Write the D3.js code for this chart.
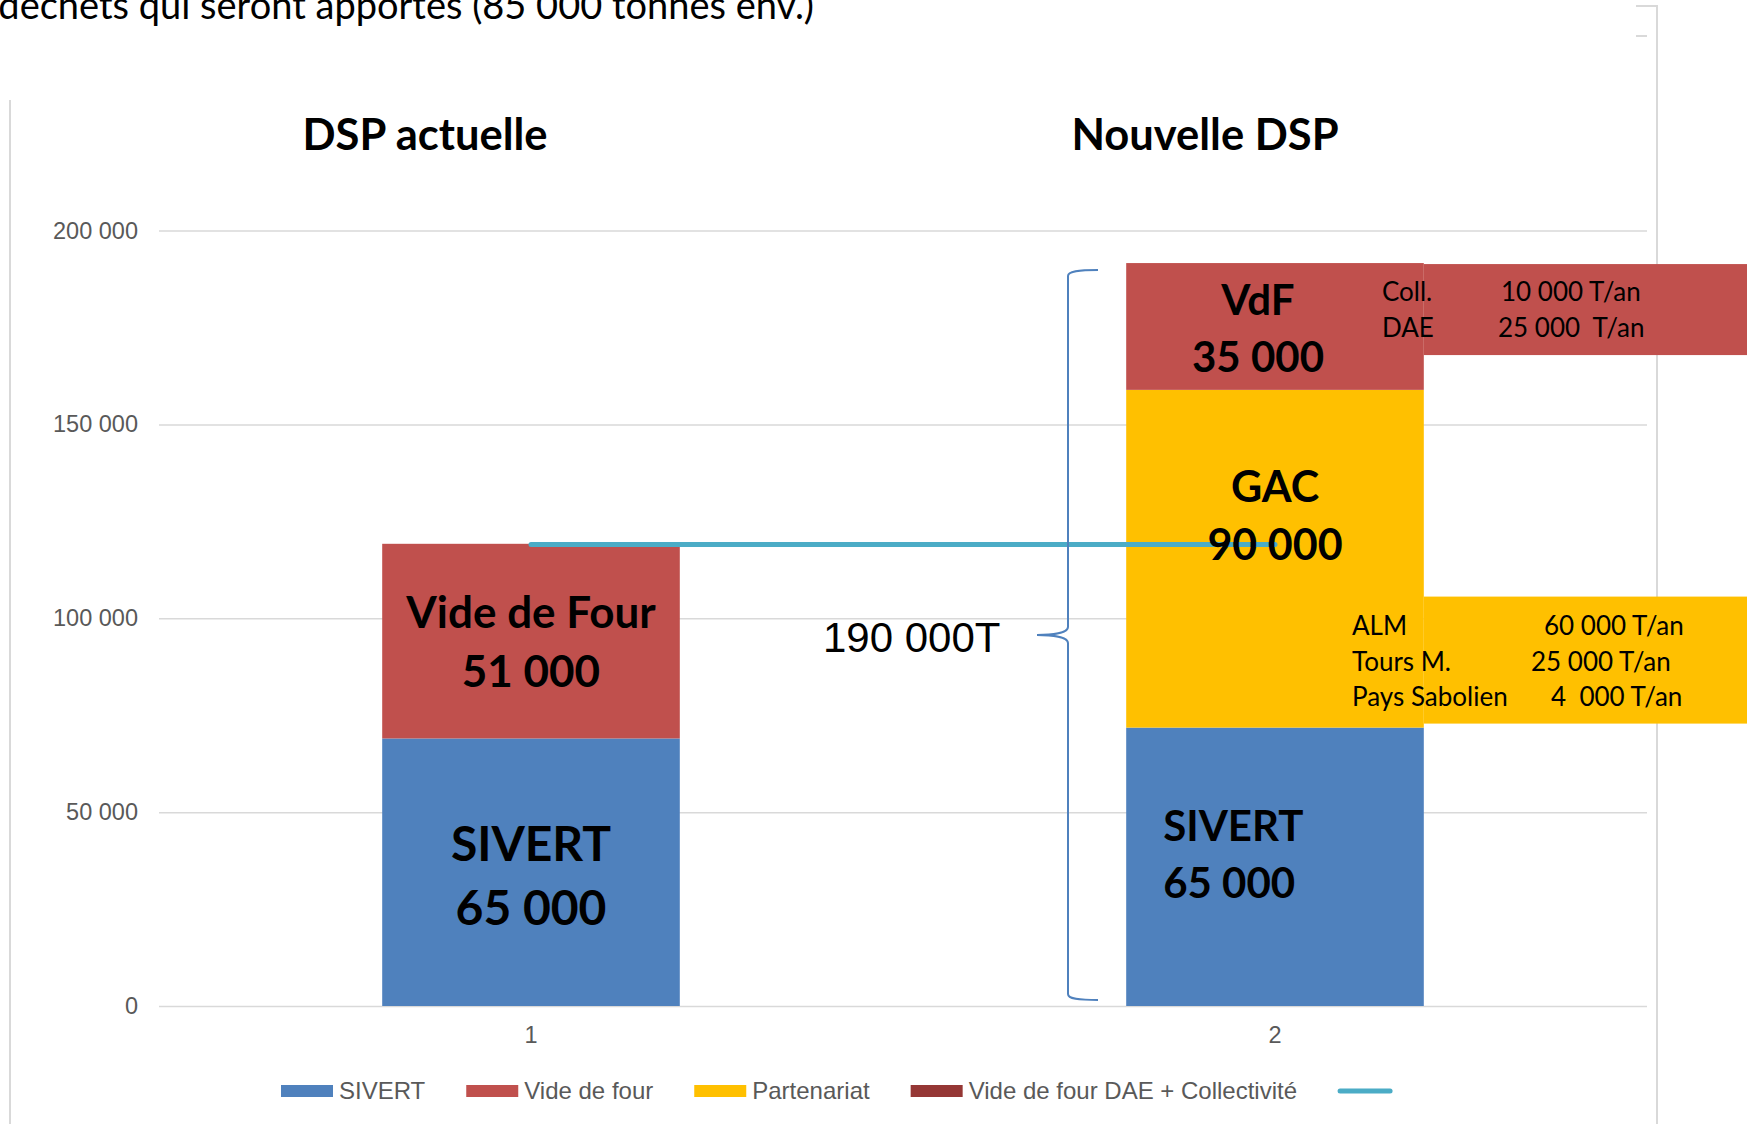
<!DOCTYPE html>
<html>
<head>
<meta charset="utf-8">
<script src="https://cdn.jsdelivr.net/npm/d3@7/dist/d3.min.js"></script>
<style>
  body { margin: 0; background: #fff; overflow: hidden; }
  svg { display: block; }
  text { white-space: pre; }
</style>
</head>
<body>
<svg id="chart" width="1747" height="1124"></svg>
<script>
// chart values
const categories = ['1', '2'];
const titles = ['DSP actuelle', 'Nouvelle DSP'];
const sivert = [69000, 71800];
const videDeFour = [50200, 32700];
const partenariat = [0, 87100];
const vdfDaeColl = [0, 0];
const lineValues = [119000, 119000];
const yTicks = [0, 50000, 100000, 150000, 200000];
const seriesNames = ['SIVERT', 'Vide de four', 'Partenariat', 'Vide de four DAE + Collectivité'];
const seriesColors = ['#4f81bd', '#c0504d', '#ffc000', '#953735'];
const lineColor = '#4bacc6';

const calibri = 'Lato, "Open Sans", sans-serif';
const arial = '"Liberation Sans", Arial, sans-serif';

var svg = d3.select('#chart');

var x = d3.scaleBand().domain(categories).range([159, 1647]);
var y = d3.scaleLinear().domain([0, 200000]).range([1006, 230.5]);
var barW = x.bandwidth() * 0.4;
function cx(c) { return x(c) + x.bandwidth() / 2; }

// slide frame bits
var frame = svg.append('g').attr('stroke', '#d9d9d9').attr('stroke-width', 2).attr('fill', 'none');
frame.append('line').attr('x1', 10).attr('x2', 10).attr('y1', 100).attr('y2', 1124);
frame.append('path').attr('d', 'M1636,6H1657V1124');
frame.append('line').attr('x1', 1636).attr('x2', 1647).attr('y1', 36).attr('y2', 36);

// heading of the slide, cut by the top-left edge as in the source
svg.append('text')
  .attr('x', 814).attr('y', 19)
  .attr('text-anchor', 'end')
  .style('font-family', calibri).style('font-size', '38px').style('fill', '#000')
  .text('déchets qui seront apportés (85 000 tonnes env.)');

// gridlines + y labels
var yAxis = d3.axisLeft(y).tickValues(yTicks).tickSize(-(1647 - 159)).tickPadding(21)
  .tickFormat(function (d) { return d3.format(',')(d).replace(/,/g, ' '); });
var gy = svg.append('g').attr('transform', 'translate(159,0)').call(yAxis);
gy.select('.domain').remove();
gy.selectAll('line').attr('stroke', '#d9d9d9').attr('stroke-width', 1.5);
gy.selectAll('text').style('font-family', arial).style('font-size', '23.5px').style('fill', '#595959');

// x labels
var xAxis = d3.axisBottom(x).tickSize(0).tickPadding(20);
var gx = svg.append('g').attr('transform', 'translate(0,1006)').call(xAxis);
gx.select('.domain').remove();
gx.selectAll('text').style('font-family', arial).style('font-size', '23.5px').style('fill', '#595959');

// titles
svg.selectAll('text.title').data(categories).enter().append('text')
  .attr('class', 'title')
  .attr('x', function (d, i) { return i === 0 ? 425 : 1205; })
  .attr('y', 150)
  .attr('text-anchor', 'middle')
  .style('font-family', calibri).style('font-weight', 700).style('font-size', '43.5px')
  .text(function (d, i) { return titles[i]; });

// stacked bars
var table = categories.map(function (c, i) {
  return { cat: c, s0: sivert[i], s1: videDeFour[i], s2: partenariat[i], s3: vdfDaeColl[i] };
});
var stack = d3.stack().keys(['s0', 's2', 's1', 's3']);
var layers = stack(table);
var colorOf = { s0: seriesColors[0], s1: seriesColors[1], s2: seriesColors[2], s3: seriesColors[3] };

svg.append('g').selectAll('g').data(layers).enter().append('g')
  .attr('fill', function (d) { return colorOf[d.key]; })
  .selectAll('rect').data(function (d) { return d; }).enter().append('rect')
  .attr('x', function (d) { return cx(d.data.cat) - barW / 2; })
  .attr('width', barW)
  .attr('y', function (d) { return y(d[1]); })
  .attr('height', function (d) { return y(d[0]) - y(d[1]); });

// call-out boxes next to bar 2
var right2 = cx('2') + barW / 2;
var top2 = y(sivert[1] + partenariat[1] + videDeFour[1]);
var sivTop2 = y(sivert[1]);
svg.append('rect').attr('x', right2).attr('y', top2 + 1).attr('width', 1747 - right2).attr('height', 91)
  .attr('fill', seriesColors[1]);
svg.append('rect').attr('x', right2).attr('y', sivTop2 - 131).attr('width', 1747 - right2).attr('height', 127)
  .attr('fill', seriesColors[2]);

function boxText(xx, yy, t) {
  svg.append('text').attr('x', xx).attr('y', yy)
    .style('font-family', calibri).style('font-size', '26px').style('fill', '#000').text(t);
}
boxText(1382, 301, 'Coll.');
boxText(1501, 301, '10 000 T/an');
boxText(1382, 337, 'DAE');
boxText(1498, 337, '25 000  T/an');
boxText(1352, 635, 'ALM');
boxText(1544, 635, '60 000 T/an');
boxText(1352, 671, 'Tours M.');
boxText(1531, 671, '25 000 T/an');
boxText(1352, 706, 'Pays Sabolien');
boxText(1551, 706, '4  000 T/an');

// line series
var line = d3.line().x(function (d, i) { return cx(categories[i]); }).y(function (d) { return y(d); });
svg.append('path').datum(lineValues)
  .attr('d', line)
  .attr('fill', 'none').attr('stroke', lineColor).attr('stroke-width', 5).attr('stroke-linecap', 'round');

// bar labels
function barLabel(xx, yy, lines, gap, size, anchor) {
  lines.forEach(function (t, i) {
    svg.append('text').attr('x', xx).attr('y', yy + i * gap)
      .attr('text-anchor', anchor || 'middle')
      .style('font-family', calibri).style('font-weight', 700).style('font-size', size + 'px')
      .style('fill', '#000').text(t);
  });
}
var mid1v = (y(sivert[0]) + y(sivert[0] + videDeFour[0])) / 2;
barLabel(cx('1'), mid1v - 13, ['Vide de Four', '51 000'], 59, 44);
var mid1s = (y(0) + y(sivert[0])) / 2;
barLabel(cx('1'), mid1s - 11, ['SIVERT', '65 000'], 64, 48);
var mid2v = (top2 + y(sivert[1] + partenariat[1])) / 2;
barLabel(cx('2') - 17, mid2v - 11, ['VdF', '35 000'], 57, 42);
var mid2p = (y(sivert[1]) + y(sivert[1] + partenariat[1])) / 2;
barLabel(cx('2'), mid2p - 57, ['GAC', '90 000'], 58, 43);
var mid2s = (y(0) + y(sivert[1])) / 2;
barLabel(cx('2') - barW / 2 + 37, mid2s - 26, ['SIVERT', '65 000'], 57, 42, 'start');

// brace + total
var braceX = 1068, bTop = 270, bBot = 1000, bMid = 635;
svg.append('path')
  .attr('d', 'M1098,' + bTop + ' C1078,' + bTop + ' ' + braceX + ',' + (bTop + 1) + ' ' + braceX + ',' + (bTop + 6) +
    ' V' + (bMid - 8) + ' C' + braceX + ',' + (bMid - 2) + ' 1052,' + bMid + ' 1037,' + bMid +
    ' C1052,' + bMid + ' ' + braceX + ',' + (bMid + 2) + ' ' + braceX + ',' + (bMid + 8) +
    ' V' + (bBot - 6) + ' C' + braceX + ',' + (bBot - 1) + ' 1078,' + bBot + ' 1098,' + bBot)
  .attr('fill', 'none').attr('stroke', '#4f81bd').attr('stroke-width', 2);
svg.append('text').attr('x', 823).attr('y', 652)
  .style('font-family', arial).style('font-size', '42px').style('fill', '#000')
  .text('190 000T');

// legend
var legend = svg.append('g');
var lx = 281;
seriesNames.forEach(function (name, i) {
  legend.append('rect').attr('x', lx).attr('y', 1085).attr('width', 52).attr('height', 12)
    .attr('fill', seriesColors[i]);
  var t = legend.append('text').attr('x', lx + 58).attr('y', 1099)
    .style('font-family', arial).style('font-size', '24px').style('fill', '#595959').text(name);
  lx += 58 + t.node().getComputedTextLength() + 41;
});
legend.append('line').attr('x1', lx + 2).attr('x2', lx + 52).attr('y1', 1091).attr('y2', 1091)
  .attr('stroke', lineColor).attr('stroke-width', 5).attr('stroke-linecap', 'round');
</script>
</body>
</html>
